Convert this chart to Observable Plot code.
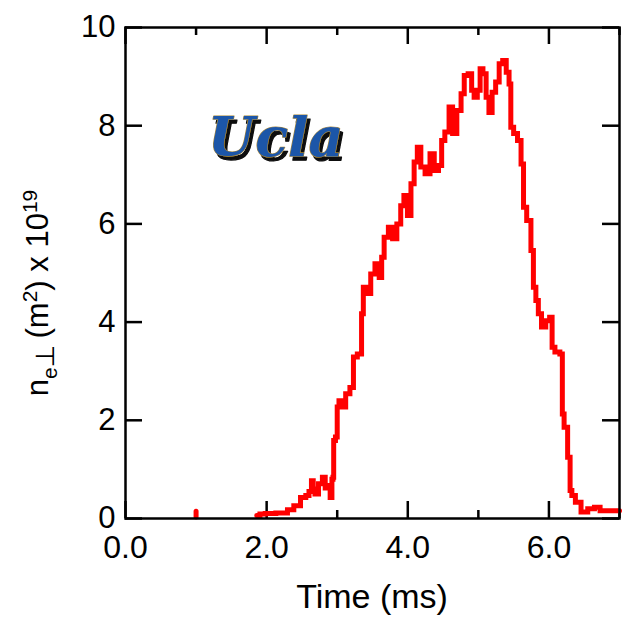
<!DOCTYPE html>
<html>
<head>
<meta charset="utf-8">
<script src="https://cdn.jsdelivr.net/npm/d3@7"></script>
<script src="https://cdn.jsdelivr.net/npm/@observablehq/plot@0.6"></script>
<style>
  html, body { margin: 0; padding: 0; background: #fff; }
  #chart { width: 626px; height: 618px; }
</style>
</head>
<body>
<div id="chart"></div>
<script>
// ---- data ----
const time    = [1.00, 1.00, 1.00,
  1.86, 1.95, 2.01, 2.25, 2.34, 2.43, 2.53, 2.58, 2.62, 2.65, 2.67, 2.70, 2.77, 2.81, 2.85, 2.88, 2.92, 2.93,
  2.95, 2.95, 3.00, 3.00, 3.05, 3.10, 3.14, 3.22, 3.24, 3.33, 3.36, 3.38, 3.45, 3.50, 3.57, 3.62, 3.64, 3.69,
  3.76, 3.81, 3.88, 3.92, 3.97, 4.02, 4.07, 4.11, 4.16, 4.21, 4.28, 4.35, 4.40, 4.47, 4.49, 4.56, 4.61, 4.66,
  4.73, 4.78, 4.82, 4.89, 4.92, 4.96, 5.01, 5.04, 5.09, 5.13, 5.17, 5.22, 5.27, 5.32, 5.37, 5.42, 5.45, 5.47,
  5.53, 5.58, 5.63, 5.65, 5.72, 5.77, 5.79, 5.84, 5.86, 5.93, 5.98, 6.04, 6.05, 6.12, 6.19, 6.19, 6.24, 6.29,
  6.31, 6.34, 6.41, 6.50, 6.60, 6.69, 6.76, 7.00];
const density = [0.03, 0.15, NaN,
  0.06, 0.09, 0.10, 0.11, 0.18, 0.26, 0.43, 0.47, 0.55, 0.77, 0.60, 0.50, 0.71, 0.84, 0.62, 0.67, 0.43, 0.80,
  0.84, 1.59, 1.66, 2.27, 2.40, 2.27, 2.54, 2.67, 3.29, 3.35, 4.17, 4.71, 4.58, 4.98, 5.19, 4.91, 5.32, 5.73,
  5.93, 5.70, 6.00, 6.37, 6.58, 6.17, 6.82, 7.26, 7.56, 7.16, 7.02, 7.43, 7.09, 7.19, 7.70, 7.87, 8.38, 7.84,
  8.31, 8.65, 9.02, 9.06, 8.72, 8.58, 8.72, 9.16, 9.06, 8.58, 8.27, 8.68, 8.89, 9.26, 9.33, 9.09, 8.85, 7.97,
  7.84, 7.70, 7.22, 6.34, 6.07, 5.46, 4.71, 4.44, 4.17, 3.90, 4.03, 4.10, 3.49, 3.39, 3.35, 2.13, 1.86, 1.25,
  0.57, 0.47, 0.33, 0.13, 0.20, 0.23, 0.16, 0.16];

const xMajorTicks = [0, 2, 4, 6];
const xMinorTicks = [1, 3, 5, 7];
const xTickLabels = ["0.0", "2.0", "4.0", "6.0"];
const yMajorTicks = [0, 2, 4, 6, 8, 10];
const yTickLabels = ["0", "2", "4", "6", "8", "10"];
const logoLabel = ["Ucla"];
const logoTime = [2.13];
const logoDensity = [7.74];
const xTitle = "Time (ms)";

// ---- build ----
const W = 626, H = 618;
const mL = 125, mR = 7, mT = 27, mB = 100;
const innerW = W - mL - mR, innerH = H - mT - mB;
const majorLen = 17, minorLen = 8;

const trace = time.map((t, i) => ({t, n: density[i]}));
const logo = logoLabel.map((s, i) => ({s, t: logoTime[i], n: logoDensity[i]}));

const plot = Plot.plot({
  width: W, height: H,
  marginLeft: mL, marginRight: mR, marginTop: mT, marginBottom: mB,
  style: {fontFamily: "'Liberation Sans', Arial, sans-serif", fontSize: "32px", background: "#fff", color: "#000"},
  x: {domain: [0, 7], label: null},
  y: {domain: [0, 10], label: null},
  marks: [
    Plot.axisX(xMajorTicks, {tickSize: 0, tickPadding: 17, tickFormat: (d, i) => xTickLabels[i], fontSize: 32, label: null}),
    Plot.axisY(yMajorTicks, {tickSize: 0, tickPadding: 10, tickFormat: (d, i) => yTickLabels[i], fontSize: 31, label: null}),
    // inward ticks: bottom & top
    Plot.tickX(xMajorTicks, {x: d => d, insetTop: innerH - majorLen, stroke: "#000", strokeWidth: 2.5}),
    Plot.tickX(xMinorTicks, {x: d => d, insetTop: innerH - minorLen, stroke: "#000", strokeWidth: 2.5}),
    Plot.tickX(xMajorTicks, {x: d => d, insetBottom: innerH - majorLen, stroke: "#000", strokeWidth: 2.5}),
    Plot.tickX(xMinorTicks, {x: d => d, insetBottom: innerH - minorLen, stroke: "#000", strokeWidth: 2.5}),
    // inward ticks: left & right
    Plot.tickY(yMajorTicks, {y: d => d, insetRight: innerW - majorLen, stroke: "#000", strokeWidth: 2.5}),
    Plot.tickY(yMajorTicks, {y: d => d, insetLeft: innerW - majorLen, stroke: "#000", strokeWidth: 2.5}),
    // logo (single text, shadow added by an SVG filter below)
    Plot.text(logo, {x: "t", y: "n", text: "s", fill: "#1f56a8", fontSize: 54, fontWeight: "bold", fontStyle: "italic", fontFamily: "'DejaVu Serif', serif", stroke: "#a98a3c", strokeWidth: 1.2, className: "ucla-logo"}),
    // trace
    Plot.line(trace, {x: "t", y: "n", curve: "step", stroke: "#ff0000", strokeWidth: 5, strokeLinejoin: "miter", strokeMiterlimit: 2}),
    Plot.frame({stroke: "#000", strokeWidth: 2.5})
  ]
});

document.getElementById("chart").appendChild(plot);

const svg = d3.select(plot);

// drop shadow for the logo
const defs = svg.insert("defs", ":first-child");
defs.append("filter").attr("id", "logo-shadow")
  .attr("x", "-10%").attr("y", "-20%").attr("width", "130%").attr("height", "150%")
  .append("feDropShadow")
  .attr("dx", 3).attr("dy", 4).attr("stdDeviation", 0.6)
  .attr("flood-color", "#111").attr("flood-opacity", 1);
svg.selectAll("g.ucla-logo").attr("filter", "url(#logo-shadow)");

// axis titles (rich text with sub/superscripts)
svg.append("text")
  .attr("x", 372).attr("y", 608)
  .attr("text-anchor", "middle")
  .attr("font-family", "'Liberation Sans', Arial, sans-serif")
  .attr("font-size", 34)
  .attr("fill", "#000")
  .text(xTitle);

const yt = svg.append("text")
  .attr("transform", "translate(48,293) rotate(-90)")
  .attr("text-anchor", "middle")
  .attr("font-family", "'Liberation Sans', Arial, sans-serif")
  .attr("font-size", 31)
  .attr("fill", "#000");
yt.append("tspan").text("n");
yt.append("tspan").attr("dy", 9).attr("font-size", 21).text("e");
yt.append("tspan").attr("dy", -3).attr("font-size", 26).attr("font-family", "'DejaVu Sans', sans-serif").text("\u22A5");
yt.append("tspan").attr("dy", -6).text("\u2009(m");
yt.append("tspan").attr("dy", -11).attr("font-size", 21).text("2");
yt.append("tspan").attr("dy", 11).text(") x 10");
yt.append("tspan").attr("dy", -11).attr("font-size", 21).text("19");
</script>
</body>
</html>
